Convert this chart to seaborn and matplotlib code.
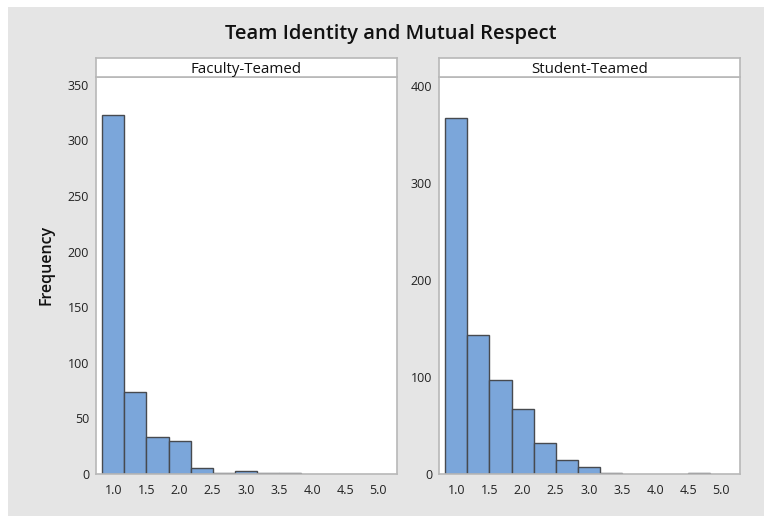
"""
Histograma de Team Identity and Mutual Respect, por tipo de equipe.
Recria o gráfico em painéis (Faculty-Teamed / Student-Teamed).
"""

import pandas as pd
import matplotlib
matplotlib.use("Agg")
import matplotlib.pyplot as plt
from matplotlib.patches import Rectangle
import seaborn as sns

# Dados (centros das classes, largura 1/3)
bin_centers = [1.0, 1.333, 1.667, 2.0, 2.333, 2.667, 3.0,
               3.333, 3.667, 4.0, 4.333, 4.667, 5.0]
faculty_counts = [323, 74, 33, 30, 5, 1, 3, 1, 1, 0, 0, 0, 0]
student_counts = [367, 143, 97, 67, 32, 14, 7, 1, 0, 0, 0, 1, 0]
panel_titles = ["Faculty-Teamed", "Student-Teamed"]
x_ticks = [1.0, 1.5, 2.0, 2.5, 3.0, 3.5, 4.0, 4.5, 5.0]

BAR_COLOR = "#7BA6DA"
EDGE_COLOR = "#474a4f"
FRAME_COLOR = "#b8b8b8"
BG_COLOR = "#e5e5e5"

sns.set_style("white")
plt.rcParams['font.family'] = ['Open Sans', 'DejaVu Sans']

fig = plt.figure(figsize=(7.64, 5.16), dpi=100)
fig.patch.set_facecolor("white")
fig.patches.append(Rectangle((8 / 764, 0), 1, (516 - 7) / 516,
                             transform=fig.transFigure, facecolor=BG_COLOR,
                             edgecolor="none", zorder=-10))

W, H = 764, 516
def px_axes(x0, y0, x1, y1):
    return [x0 / W, (H - y1) / H, (x1 - x0) / W, (y1 - y0) / H]

# limites das classes (lista, não array, para o histplot)
edges = [bin_centers[0] - 1 / 6] + [c + 1 / 6 for c in bin_centers]

panels = [
    (panel_titles[0], faculty_counts, 96, 397, 357, [0, 50, 100, 150, 200, 250, 300, 350]),
    (panel_titles[1], student_counts, 439, 740, 409, [0, 100, 200, 300, 400]),
]

for title, counts, x0, x1, ymax, yticks in panels:
    ax = fig.add_axes(px_axes(x0, 77, x1, 474))
    df = pd.DataFrame({"score": bin_centers, "count": counts})
    sns.histplot(data=df, x="score", weights="count", bins=edges, ax=ax,
                 color=BAR_COLOR, alpha=1, edgecolor=EDGE_COLOR, linewidth=1.0)
    # classes vazias não aparecem no original
    for p in ax.patches:
        if p.get_height() == 0:
            p.set_visible(False)
    ax.set_xlim(0.74, 5.28)
    ax.set_ylim(0, ymax)
    ax.set_xticks(x_ticks)
    ax.set_xticklabels([f"{t:.1f}" for t in x_ticks])
    ax.set_yticks(yticks)
    ax.set_xlabel("")
    ax.set_ylabel("")
    ax.set_facecolor("white")
    for s in ax.spines.values():
        s.set_color(FRAME_COLOR)
        s.set_linewidth(1.2)
    ax.tick_params(axis="both", direction="out", length=3, width=0.8,
                   color=FRAME_COLOR, labelsize=9, labelcolor="#222222", pad=2)
    ax.tick_params(axis="x", pad=4)

    # faixa do painel
    strip = fig.add_axes(px_axes(x0, 58, x1, 77))
    strip.set_facecolor("white")
    strip.set_xticks([])
    strip.set_yticks([])
    for s in strip.spines.values():
        s.set_color(FRAME_COLOR)
        s.set_linewidth(1.2)
    strip.text(0.5, 0.42, title, ha="center", va="center", fontsize=10.8,
               color="#111111", transform=strip.transAxes)

fig.text(391 / W, 1 - 34 / H, "Team Identity and Mutual Respect", ha="center",
         va="center", fontsize=14.5, fontweight="semibold", color="#111111")
fig.text(46 / W, 1 - 265 / H, "Frequency", ha="center", va="center",
         rotation=90, fontsize=11.5, fontweight="semibold", color="#111111")

fig.savefig("out.png", dpi=100)
